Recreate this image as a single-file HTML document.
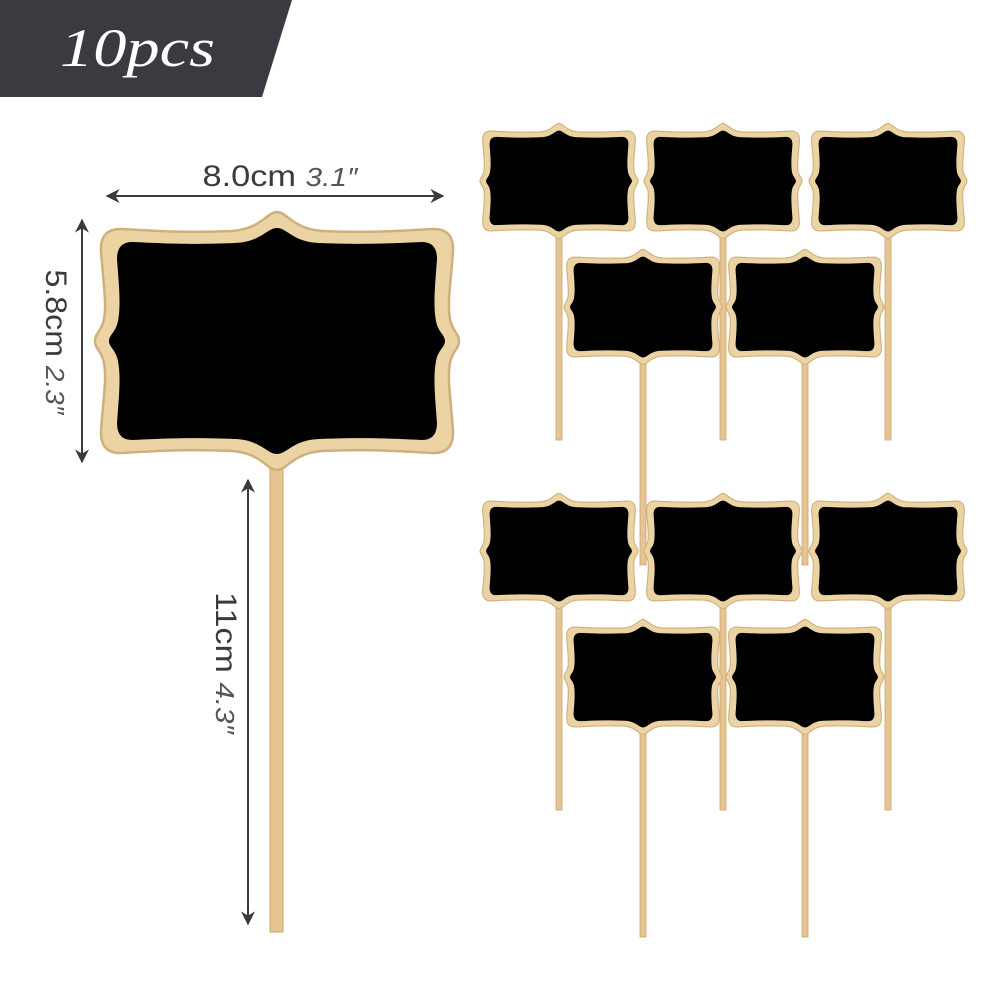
<!DOCTYPE html>
<html><head><meta charset="utf-8"><style>
html,body{margin:0;padding:0;background:#fff}
svg{display:block}
</style></head><body>
<svg width="1000" height="1000" viewBox="0 0 1000 1000" xmlns="http://www.w3.org/2000/svg">
<defs>
<path id="sh" d="M0,-129 C10,-129 16,-112 45,-110 C90,-108 120,-110 155,-112 Q177,-113 176,-90 C174,-60 170,-38 173,-22 C175,-10 182,-8 182,0 C182,8 175,10 173,22 C170,38 174,60 176,90 Q177,113 155,112 C120,110 90,108 45,110 C16,112 10,129 0,129 C-10,129 -16,112 -45,110 C-90,108 -120,110 -155,112 Q-177,113 -176,90 C-174,60 -170,38 -173,22 C-175,10 -182,8 -182,0 C-182,-8 -175,-10 -173,-22 C-170,-38 -174,-60 -176,-90 Q-177,-113 -155,-112 C-120,-110 -90,-108 -45,-110 C-16,-112 -10,-129 0,-129 Z"/>
<path id="in" d="M0,-113 C10,-113 16,-99 42,-98 C90,-96 120,-98 145,-99 Q160,-99 160,-82 C158,-55 156,-36 159,-20 C161,-9 168,-6 168,0 C168,6 161,9 159,20 C156,36 158,55 160,82 Q160,99 145,99 C120,98 90,96 42,98 C16,99 10,113 0,113 C-10,113 -16,99 -42,98 C-90,96 -120,98 -145,99 Q-160,99 -160,82 C-158,55 -156,36 -159,20 C-161,9 -168,6 -168,0 C-168,-6 -161,-9 -159,-20 C-156,-36 -158,-55 -160,-82 Q-160,-99 -145,-99 C-120,-98 -90,-96 -42,-98 C-16,-99 -10,-113 0,-113 Z"/>
<g id="sign">
<use href="#sh" fill="#ecd3a3" stroke="#cfb07c" stroke-width="2.5"/>
<use href="#in" fill="#000"/>
</g>
<marker id="ar" viewBox="0 0 10 10" refX="9" refY="5" markerWidth="7" markerHeight="7" orient="auto-start-reverse"><path d="M0,0 L10,5 L0,10 L3,5 Z" fill="#3a3b40"/></marker>
</defs>
<polygon points="0,0 292,0 262,97 0,97" fill="#3a3b40"/>
<text x="60" y="66" font-family="Liberation Serif, serif" font-style="italic" font-size="54" fill="#fff" textLength="155" lengthAdjust="spacingAndGlyphs">10pcs</text>

<rect x="270" y="466" width="13" height="466" fill="#e6c592" stroke="#c9a46e" stroke-width="1"/>
<use href="#sign" transform="translate(277,341)"/>

<line x1="107" y1="196" x2="443" y2="196" stroke="#3a3b40" stroke-width="2" marker-start="url(#ar)" marker-end="url(#ar)"/>
<text x="280" y="186" text-anchor="middle" font-family="Liberation Sans, sans-serif" font-size="30" fill="#3a3b40" textLength="155" lengthAdjust="spacingAndGlyphs">8.0cm <tspan font-style="italic" font-size="26" fill="#555">3.1″</tspan></text>
<line x1="82" y1="220" x2="82" y2="462" stroke="#3a3b40" stroke-width="2" marker-start="url(#ar)" marker-end="url(#ar)"/>
<text transform="translate(46,342) rotate(90)" text-anchor="middle" font-family="Liberation Sans, sans-serif" font-size="30" fill="#3a3b40" textLength="145" lengthAdjust="spacingAndGlyphs">5.8cm <tspan font-style="italic" font-size="26" fill="#555">2.3″</tspan></text>
<line x1="248" y1="480" x2="248" y2="924" stroke="#3a3b40" stroke-width="2" marker-start="url(#ar)" marker-end="url(#ar)"/>
<text transform="translate(216,663) rotate(90)" text-anchor="middle" font-family="Liberation Sans, sans-serif" font-size="30" fill="#3a3b40" textLength="142" lengthAdjust="spacingAndGlyphs">11cm <tspan font-style="italic" font-size="26" fill="#555">4.3″</tspan></text>

<g fill="#e6c592" stroke="#c9a46e" stroke-width="0.8">
<rect x="556" y="236" width="6" height="204"/><rect x="720" y="236" width="6" height="204"/><rect x="885" y="236" width="6" height="204"/>
<rect x="640" y="362" width="6" height="203"/><rect x="802" y="362" width="6" height="203"/>
<rect x="556" y="606" width="6" height="204"/><rect x="720" y="606" width="6" height="204"/><rect x="885" y="606" width="6" height="204"/>
<rect x="640" y="732" width="6" height="205"/><rect x="802" y="732" width="6" height="205"/>
</g>
<g>
<use href="#sign" transform="translate(559,181) scale(0.434,0.446)"/>
<use href="#sign" transform="translate(723,181) scale(0.434,0.446)"/>
<use href="#sign" transform="translate(888,181) scale(0.434,0.446)"/>
<use href="#sign" transform="translate(643,307) scale(0.434,0.446)"/>
<use href="#sign" transform="translate(805,307) scale(0.434,0.446)"/>
<use href="#sign" transform="translate(559,551) scale(0.434,0.446)"/>
<use href="#sign" transform="translate(723,551) scale(0.434,0.446)"/>
<use href="#sign" transform="translate(888,551) scale(0.434,0.446)"/>
<use href="#sign" transform="translate(643,677) scale(0.434,0.446)"/>
<use href="#sign" transform="translate(805,677) scale(0.434,0.446)"/>
</g>
</svg>
</body></html>
